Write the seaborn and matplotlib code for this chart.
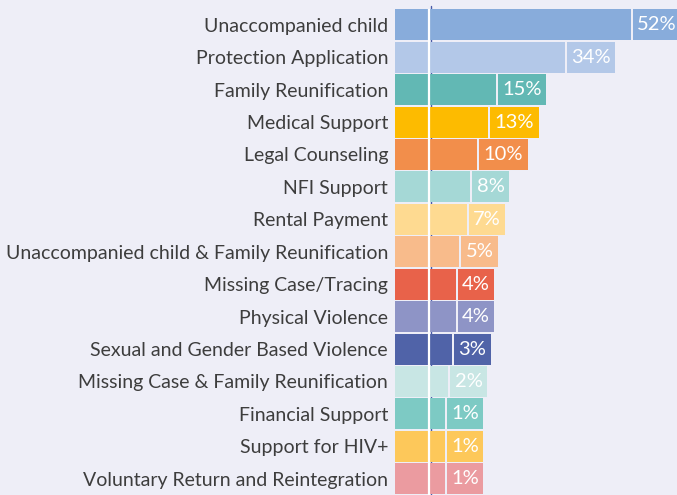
import matplotlib
matplotlib.use('Agg')

import matplotlib.pyplot as plt
import seaborn as sns
import pandas as pd

categories = [
    "Unaccompanied child",
    "Protection Application",
    "Family Reunification",
    "Medical Support",
    "Legal Counseling",
    "NFI Support",
    "Rental Payment",
    "Unaccompanied child & Family Reunification",
    "Missing Case/Tracing",
    "Physical Violence",
    "Sexual and Gender Based Violence",
    "Missing Case & Family Reunification",
    "Financial Support",
    "Support for HIV+",
    "Voluntary Return and Reintegration",
]
percentages = [52, 34, 15, 13, 10, 8, 7, 5, 4, 4, 3, 2, 1, 1, 1]
colors = [
    "#88ACDB", "#B3C8E8", "#62B8B4", "#FDBB00", "#F28E4B",
    "#A5D8D6", "#FEDA91", "#F8BB8B", "#E8624A", "#8E94C6",
    "#5063A8", "#C8E6E4", "#7DCAC4", "#FDC85A", "#EB9BA0",
]

BG = "#EEEEF7"
TEXT = "#3D3D3D"
STUB_START = -12.6   # bars begin left of zero (fixed stub)
SEPARATOR = -3.2
BAR_H = 0.955

sns.set_theme(style="white")
plt.rcParams['font.family'] = ['Lato', 'DejaVu Sans']

fig = plt.figure(figsize=(6.77, 4.95), dpi=100, facecolor=BG)
ax = fig.add_axes([395 / 677, 0, 282 / 677, 1 - 8.5 / 495])
ax.set_facecolor(BG)

df = pd.DataFrame({"category": categories, "pct": percentages})
sns.barplot(data=df, x="pct", y="category", hue="category", palette=colors,
            legend=False, orient="h", width=BAR_H, saturation=1, ax=ax, zorder=2)

# stretch the bars so they start at the stub
for p in ax.patches:
    w = p.get_width()
    p.set_x(STUB_START)
    p.set_width(w - STUB_START)
    p.set_linewidth(0)

ax.set_xlim(STUB_START, 64.7)
ax.set_ylim(len(categories) - 0.5, -0.5)

# thin axis line behind bars + white separator over them
ax.axvline(SEPARATOR + 0.45, color="#4A5BA8", lw=1, zorder=1, ymax=1.006, clip_on=False)
ax.axvline(SEPARATOR, color="white", lw=1.6, zorder=3)

# value labels in colored boxes
gap, pad = 0.55, 1.2
texts = []
for i, (v, c) in enumerate(zip(percentages, colors)):
    t = ax.text(v + gap + pad, i, f"{v}%", color="white", fontsize=14.5,
                va="center", ha="left", zorder=5)
    texts.append(t)

fig.canvas.draw()
inv = ax.transData.inverted()
for i, (v, c, t) in enumerate(zip(percentages, colors, texts)):
    bb = t.get_window_extent()
    x_end = inv.transform((bb.x1, 0))[0]
    ax.barh(i, x_end + pad - (v + gap), left=v + gap, height=BAR_H,
            color=c, lw=0, zorder=4)

ax.set_xlabel("")
ax.set_ylabel("")
ax.set_xticks([])
ax.tick_params(axis="y", length=0, pad=5, labelsize=14, labelcolor=TEXT)
sns.despine(ax=ax, left=True, bottom=True)

plt.savefig("out.png", dpi=100, facecolor=BG)
